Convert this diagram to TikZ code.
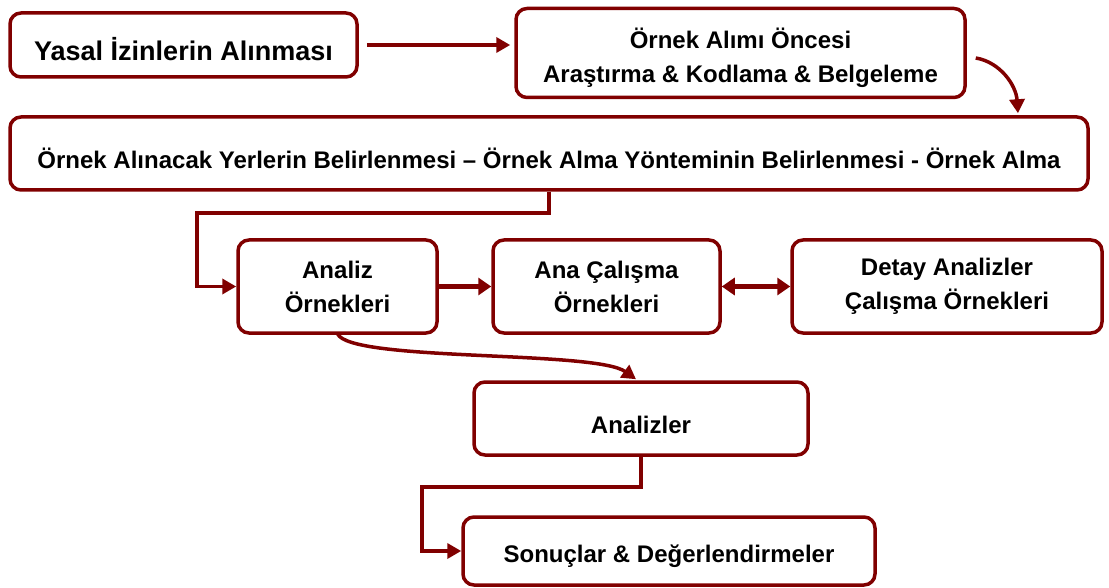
\documentclass[tikz,border=0pt]{standalone}
\usepackage{fontspec}
\setmainfont{Liberation Sans}
\usetikzlibrary{arrows.meta}
\definecolor{maroon}{HTML}{800000}
\newcommand\mystrut[1]{\rule{0pt}{#1}}
\begin{document}
\begin{tikzpicture}[x=1pt,y=-1pt,
  box/.style={draw=maroon, line width=3.5pt, rounded corners=11pt, fill=white,
    align=center, inner sep=0pt, font={\fontsize{24}{34}\selectfont\bfseries}},
  arr/.style={draw=maroon, line width=3.5pt, -{Triangle[length=14pt,width=15pt]}},
  thickarr/.style={draw=maroon, line width=5.5pt, -{Triangle[length=13pt,width=17pt]}},
  dblarr/.style={draw=maroon, line width=5.5pt, {Triangle[length=13pt,width=17pt]}-{Triangle[length=13pt,width=17pt]}}
]
\useasboundingbox (0,0) rectangle (1109,588);
\node[box, minimum width=347pt, minimum height=64pt, font={\fontsize{27}{34}\selectfont\bfseries}] (A) at (183.5,45) {\mystrut{32pt}Yasal İzinlerin Alınması};
\node[box, minimum width=449pt, minimum height=89pt] (B) at (740.5,53) {\mystrut{30pt}Örnek Alımı Öncesi\\Araştırma \& Kodlama \& Belgeleme};
\node[box, minimum width=1078pt, minimum height=73pt] (C) at (549,153.5) {\mystrut{30pt}Örnek Alınacak Yerlerin Belirlenmesi – Örnek Alma Yönteminin Belirlenmesi - Örnek Alma};
\node[box, minimum width=199pt, minimum height=93pt] (D) at (337.5,286.5) {Analiz\\Örnekleri};
\node[box, minimum width=227pt, minimum height=93pt] (E) at (606.5,286.5) {Ana Çalışma\\Örnekleri};
\node[box, minimum width=310pt, minimum height=93pt] (F) at (947,286.5) {Detay Analizler\\Çalışma Örnekleri};
\node[box, minimum width=334pt, minimum height=73pt] (G) at (641,418.5) {\mystrut{30pt}Analizler};
\node[box, minimum width=412pt, minimum height=68pt] (H) at (669,551) {\mystrut{29pt}Sonuçlar \& Değerlendirmeler};
\coordinate (k1) at (197,213);
\coordinate (k2) at (422,487);
\draw[arr] ([xshift=8pt]A.east) -- ([xshift=-4pt]B.west |- A.east);
\draw[arr] ([shift={(9,5)}]B.east) .. controls (1000,62) and (1016,85) .. ([shift={(469,-2)}]C.north);
\draw[arr] (C.south) |- (k1) |- (D.west);
\draw[thickarr] (D.east) -- (E.west);
\draw[dblarr] (E.east) -- (F.west);
\draw[arr] ([yshift=1pt]D.south) .. controls (350,362) and (595,350) .. ([shift={(-5,-1)}]G.north);
\draw[arr] (G.south) |- (k2) |- (H.west);
\end{tikzpicture}
\end{document}
